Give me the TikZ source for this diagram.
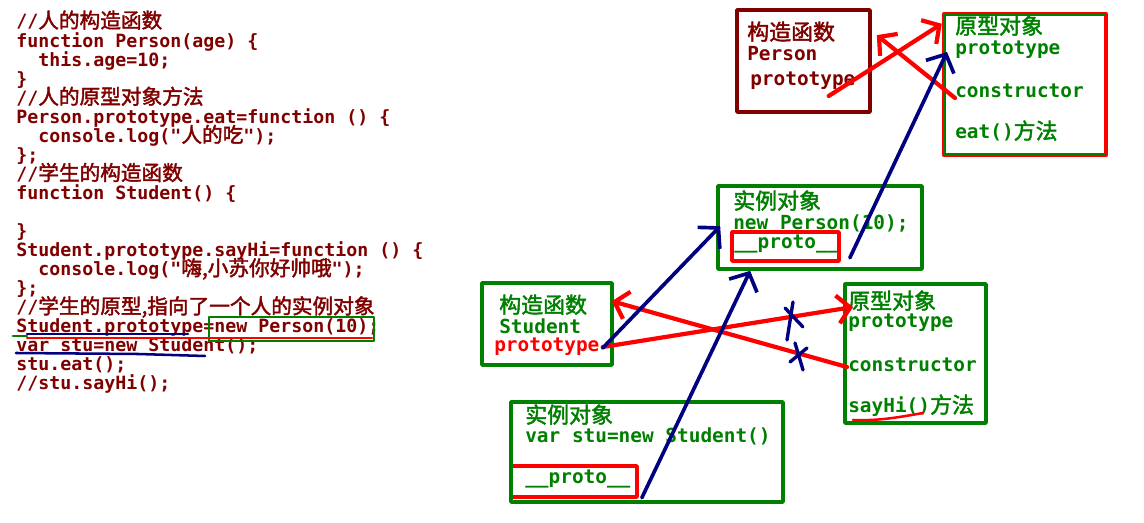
\documentclass[tikz,border=0pt]{standalone}
\usepackage{fontspec}
\newfontfamily\codefont{DejaVu Sans Mono}
\newfontfamily\cjk{Noto Sans CJK SC}[Scale=1.13,AutoFakeBold=2]
\newcommand\zh[1]{{\cjk #1}}
\usetikzlibrary{arrows.meta,fit,calc}
\definecolor{codered}{HTML}{800000}
\definecolor{jsgreen}{HTML}{008000}
\definecolor{penblue}{HTML}{000080}
\definecolor{penred}{HTML}{FF0000}

\begin{document}
\begin{tikzpicture}[x=0.025cm, y=-0.025cm, line cap=round, line join=round]
  \tikzstyle{code}=[anchor=base west, inner sep=0, text height=9pt, text depth=3pt, text=codered, font=\codefont\bfseries\fontsize{13}{14}\selectfont]
  \tikzstyle{lbl}=[anchor=base west, inner sep=0, text height=9pt, text depth=3pt, text=jsgreen, font=\codefont\bfseries\fontsize{13.8}{15}\selectfont]
  \tikzstyle{gbox}=[draw=jsgreen, line width=2.6pt, inner sep=0]
  \tikzstyle{rbox}=[draw=penred, line width=2.6pt, inner sep=0]
  \tikzstyle{redarr}=[draw=penred, line width=3pt, -{Straight Barb[length=9pt,width=20pt]}]
  \tikzstyle{bluearr}=[draw=penblue, line width=2.6pt, -{Straight Barb[length=10pt,width=22pt]}]
  \tikzstyle{strike}=[draw=penblue, line width=2.4pt]

  \useasboundingbox (0,0) rectangle (1144,523);
  \fill[white] (0,0) rectangle (1144,523);

  % ------- source code -------
  \foreach \src [count=\i] in {
      {//\zh{人的构造函数}},
      {function Person(age) \{},
      {\ \ this.age=10;},
      {\}},
      {//\zh{人的原型对象方法}},
      {Person.prototype.eat=function () \{},
      {\ \ console.log("\zh{人的吃}");},
      {\};},
      {//\zh{学生的构造函数}},
      {function Student() \{},
      {},
      {\}},
      {Student.prototype.sayHi=function () \{},
      {\ \ console.log("\zh{嗨,小苏你好帅哦}");},
      {\};},
      {//\zh{学生的原型,指向了一个人的实例对象}},
      {Student.prototype=new Person(10);},
      {var stu=new Student();},
      {stu.eat();},
      {//stu.sayHi();}}
    \node[code] (c\i) at (16,{28+19.05*(\i-1)}) {\src};

  % pen marks on the code
  \node[draw=jsgreen, line width=2pt, inner sep=0, fit={(209,317)(374,341)}] (newbox) {};
  \draw[jsgreen, line width=1.8pt] (13,336) -- (27,336);
  \draw[penred, line width=1.8pt] (27,338) -- (372,338);
  \draw[penblue, line width=1.8pt] (27,334) -- (188,334);
  \draw[penblue, line width=1.8pt] (16,353) -- (138,354) -- (205,356);

  % ------- Person side -------
  \node[lbl, text=codered] (ptitle) at (747,40) {\zh{构造函数}};
  \node[lbl, text=codered] (pname)  at (747,61) {Person};
  \node[lbl, text=codered] (pproto) at (750,86) {prototype};
  \node[draw=codered, line width=2.6pt, inner sep=0, fit={(737,10)(870,112)}] (pfun) {};

  \node[lbl] (otitle) at (955,34)  {\zh{原型对象}};
  \node[lbl] (oproto) at (955,55)  {prototype};
  \node[lbl] (octor)  at (955,98)  {constructor};
  \node[lbl] (oeat)   at (955,139) {eat()\zh{方法}};
  \node[draw=penred, line width=3.2pt, inner sep=0, fit={(944,14)(1106,155)}] (pobj) {};
  \draw[jsgreen, line width=0.8pt] ($(pobj.north west)+(3,3)$) rectangle ($(pobj.south east)+(-3,-3)$);

  \node[lbl] (ititle) at (733,209) {\zh{实例对象}};
  \node[lbl] (inew)   at (733,230) {new Person(10);};
  \node[lbl] (iproto) at (734,249) {\_\_proto\_\_};
  \node[rbox, fit={(732,232)(839,261)}] (iprotobox) {};
  \node[gbox, fit={(718,186)(922,269)}] (inst1) {};

  % ------- Student side -------
  \node[lbl] (stitle) at (499,313) {\zh{构造函数}};
  \node[lbl] (sname)  at (499,334) {Student};
  \node[lbl, text=penred] (sproto) at (494,352) {prototype};
  \node[gbox, fit={(482,283)(612,365)}] (sfun) {};

  \node[lbl] (etitle) at (848,309) {\zh{原型对象}};
  \node[lbl] (eproto) at (848,328) {prototype};
  \node[lbl] (ector)  at (848,372) {constructor};
  \node[lbl] (esay)   at (848,413) {sayHi()\zh{方法}};
  \node[gbox, fit={(845,284)(986,423)}] (sobj) {};
  \draw[penred, line width=1.8pt] (853,420) .. controls (880,421) and (900,417) .. (923,413);

  \node[lbl] (ftitle) at (525,423) {\zh{实例对象}};
  \node[lbl] (fnew)   at (525,443) {var stu=new Student()};
  \node[lbl] (fproto) at (525,484) {\_\_proto\_\_};
  \node[rbox, fit={(511,466)(637,497)}] (fprotobox) {};
  \node[gbox, fit={(511,402)(783,502)}] (inst2) {};

  % ------- arrows -------
  \draw[redarr] ($(pproto.base east)+(-27,10)$) -- ($(pobj.north west)+(0,12)$);
  \draw[redarr] (octor.base west) -- ($(pfun.north east)+(5,27)$);
  \draw[redarr] ($(sproto.base east)+(3,-5)$) -- ($(etitle.base west)+(5,-2)$);
  \draw[redarr] ($(ector.base west)+(-1,-5)$) -- ($(sfun.north east)+(-2,20)$);

  \draw[bluearr] ($(iprotobox.south east)+(9,-5)$) -- ($(oproto.base west)+(-8,-3)$);
  \draw[bluearr] ($(sproto.base east)+(3,-4)$) -- ($(inst1.north west)+(4,42)$);
  \draw[bluearr] ($(fprotobox.south east)+(3,-1)$) -- ($(inst1.south west)+(34,0)$);

  % crossed-out links
  \draw[strike] (785,308) -- (803,327);
  \draw[strike] (793,302) -- (787,340);
  \draw[strike] (790,362) -- (807,348);
  \draw[strike] (795,343) -- (803,370);
\end{tikzpicture}
\end{document}
